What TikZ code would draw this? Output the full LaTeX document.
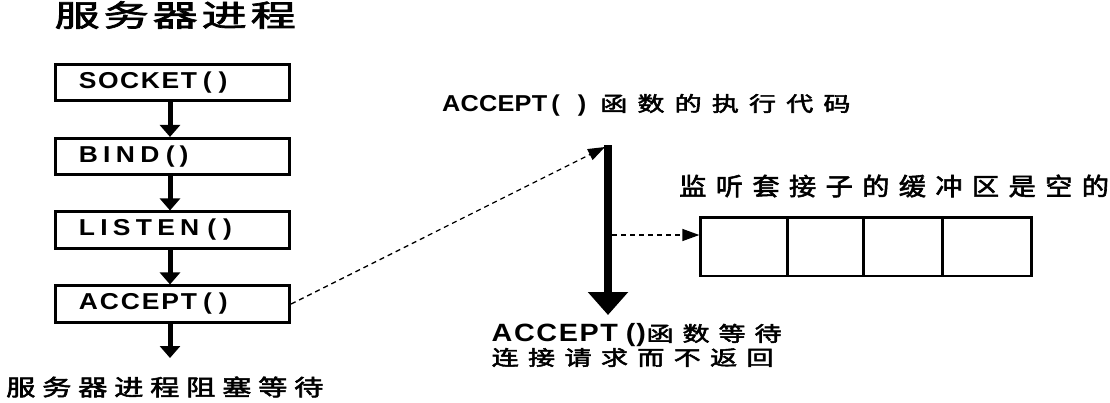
\documentclass[tikz,border=0pt]{standalone}
\usepackage{fontspec}
\usepackage{graphicx}
\usetikzlibrary{arrows.meta}
\newfontfamily\latf{Liberation Sans}
\newfontfamily\cjkf[FakeBold=2.2]{Noto Sans CJK SC}
\makeatletter
% CJK text: size, horizontal scale, pitch, characters
\newcommand\Ch[4]{{\fontsize{#1}{#1}\selectfont\cjkf\@tfor\sx:=#4\do{\makebox[#3pt][l]{\scalebox{#2}[1]{\sx}}}}}
% Latin text: size, horizontal scale, gap, letters
\newcommand\La[4]{{\fontsize{#1}{#1}\selectfont\latf\bfseries\@tfor\sx:=#4\do{\scalebox{#2}[1]{\sx}\kern#3pt}}}
\newcommand\Lc[3]{{\fontsize{#1}{#1}\selectfont\latf\bfseries\scalebox{#2}[1]{#3}}}
\makeatother
\begin{document}
\begin{tikzpicture}[x=1pt,y=-1pt,
  box/.style={draw, line width=2.7pt, minimum width=234.4pt, minimum height=36.4pt,
    text width=187.4pt, align=left, inner xsep=23.5pt, inner ysep=0pt},
  cell/.style={draw, line width=2.7pt, minimum height=58.3pt, inner sep=0pt},
  flow/.style={line width=5pt, -{Triangle[width=20pt,length=12pt]}},
  bigarrow/.style={line width=7.7pt, -{Triangle[width=39pt,length=23pt]}},
  dasharrow/.style={line width=1.3pt, dash pattern=on 5pt off 4pt,
    -{Triangle[width=12pt,length=17pt]}},
  lbl/.style={inner sep=0pt, anchor=west}]
\useasboundingbox (0,0) rectangle (1110,402);

% title
\node[lbl] (title) at (54.5,15) {\Ch{30}{1.5}{49}{服务器进程}};

% flow boxes
\node[box] (s) at (172.5,82.5) {\La{23}{1.15}{1.6}{SOCKET}\kern4.3pt\Lc{23}{1.15}{(}\kern6.8pt\Lc{23}{1.15}{)}};
\node[box] (b) at (172.5,156.5) {\La{23}{1.15}{5.3}{BIND}\kern1.3pt\Lc{23}{1.15}{(}\kern4.8pt\Lc{23}{1.15}{)}};
\node[box] (l) at (172.5,230) {\La{23}{1.15}{5.3}{LISTEN}\kern2.8pt\Lc{23}{1.15}{(}\kern6.8pt\Lc{23}{1.15}{)}};
\node[box] (a) at (172.5,304) {\La{23}{1.15}{1.9}{ACCEPT}\kern4.2pt\Lc{23}{1.15}{(}\kern6.8pt\Lc{23}{1.15}{)}};
\coordinate (wait) at (170,358);
\draw[flow] ([xshift=-2.5pt]s.south) -- ([xshift=-2.5pt]b.north);
\draw[flow] ([xshift=-2.5pt]b.south) -- ([xshift=-2.5pt]l.north);
\draw[flow] ([xshift=-2.5pt]l.south) -- ([xshift=-2.5pt]a.north);
\draw[flow] ([xshift=-2.5pt]a.south) -- (wait);
\node[lbl] (blocked) at (6,387) {\Ch{22.5}{1.3}{36}{服务器进程阻塞等待}};

% accept execution
\node[lbl] (code) at (442,105) {\La{23}{1.1}{0.2}{ACCEPT}\kern4pt\Lc{23}{1.1}{(}\kern18pt\Lc{23}{1.1}{)}\kern14pt\Ch{20.5}{1.32}{37.2}{函数的执行代码}};
\coordinate (top) at (608,145);
\coordinate (tip) at (608,315);
\draw[bigarrow] (top) -- (tip);
\coordinate (dtip) at (605,147);
\draw[dasharrow] (a.east) -- (dtip);

% buffer
\node[lbl] (buflbl) at (679,186) {\Ch{24.5}{1.11}{36.6}{监听套接子的缓冲区是空的}};
\node[cell, minimum width=86.6pt] (c1) at (744,246.85) {};
\node[cell, minimum width=76pt] (c2) at (825.3,246.85) {};
\node[cell, minimum width=79pt] (c3) at (902.8,246.85) {};
\node[cell, minimum width=89.4pt] (c4) at (987,246.85) {};
\coordinate (mid) at (612,235);
\draw[dasharrow] (mid) -- (mid -| c1.west);

% waiting label
\node[lbl, align=left, font=\fontsize{22}{24}\selectfont] (waitlbl) at (491.5,345)
  {\La{25}{1.15}{1.6}{ACCEPT}\kern6.4pt\Lc{25}{1.15}{(}\kern1pt\Lc{25}{1.15}{)}\kern0.5pt\Ch{20.5}{1.32}{36}{函数等待}\\\Ch{20.5}{1.32}{36.4}{连接请求而不返回}};
\end{tikzpicture}
\end{document}
